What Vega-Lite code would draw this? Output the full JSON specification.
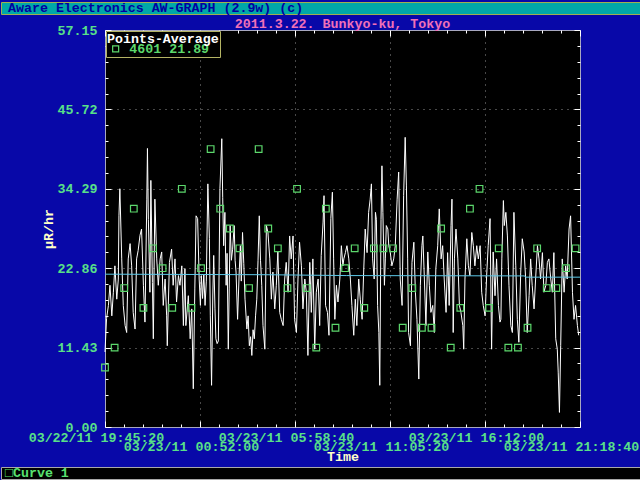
{
  "$schema": "https://vega.github.io/schema/vega-lite/v6.json",
  "background": "#0808A8",
  "padding": 0,
  "spacing": 1,
  "config": {
    "font": "Liberation Mono",
    "view": {"stroke": null}
  },
  "resolve": {"scale": {"color": "independent"}, "legend": {"color": "independent"}},
  "datasets": {
    "readings": [
      {"m":0,"v":10.8},{"m":5,"v":15.6},{"m":11,"v":17.5},{"m":16,"v":20.4},{"m":22,"v":16.0},{"m":27,"v":19.4},{"m":32,"v":23.2},{"m":38,"v":18.4},{"m":43,"v":21.3},{"m":45,"v":30.4},{"m":48,"v":34.3},{"m":54,"v":24.2},{"m":59,"v":17.5},{"m":65,"v":14.6},{"m":70,"v":13.6},{"m":75,"v":24.2},{"m":81,"v":26.4},{"m":86,"v":23.2},{"m":91,"v":16.5},{"m":97,"v":14.1},{"m":102,"v":24.2},{"m":107,"v":25.4},{"m":113,"v":27.6},{"m":118,"v":28.5},{"m":124,"v":20.4},{"m":129,"v":15.1},{"m":135,"v":32.8},{"m":137,"v":40.1},{"m":140,"v":29.9},{"m":145,"v":19.4},{"m":148,"v":35.5},{"m":153,"v":20.8},{"m":156,"v":12.7},{"m":161,"v":32.8},{"m":167,"v":24.2},{"m":172,"v":20.4},{"m":178,"v":24.2},{"m":183,"v":25.2},{"m":188,"v":17.5},{"m":194,"v":21.3},{"m":199,"v":16.0},{"m":201,"v":11.7},{"m":208,"v":23.7},{"m":215,"v":25.6},{"m":220,"v":20.4},{"m":226,"v":24.2},{"m":231,"v":18.0},{"m":237,"v":21.8},{"m":242,"v":20.4},{"m":248,"v":23.2},{"m":253,"v":14.6},{"m":258,"v":22.8},
      {"m":261,"v":14.6},{"m":269,"v":18.9},{"m":275,"v":12.7},{"m":280,"v":17.0},{"m":285,"v":5.5},{"m":290,"v":20.0},{"m":294,"v":30.4},{"m":299,"v":30.0},{"m":304,"v":21.3},{"m":308,"v":17.5},{"m":311,"v":21.8},{"m":315,"v":18.5},{"m":319,"v":22.0},{"m":323,"v":17.5},{"m":327,"v":21.0},{"m":332,"v":35.0},{"m":337,"v":27.1},{"m":340,"v":16.0},{"m":344,"v":6.0},{"m":348,"v":19.0},{"m":351,"v":24.7},{"m":355,"v":17.0},{"m":358,"v":12.7},{"m":362,"v":12.0},{"m":366,"v":12.4},{"m":371,"v":34.3},{"m":377,"v":41.5},{"m":380,"v":33.0},{"m":383,"v":26.1},{"m":387,"v":30.9},{"m":391,"v":20.4},{"m":394,"v":25.0},{"m":398,"v":11.2},{"m":401,"v":20.0},{"m":404,"v":29.0},{"m":408,"v":24.0},{"m":412,"v":25.6},{"m":417,"v":29.0},{"m":420,"v":24.0},{"m":423,"v":22.3},{"m":428,"v":15.5},{"m":433,"v":22.0},{"m":437,"v":26.1},{"m":440,"v":21.0},{"m":444,"v":28.0},{"m":448,"v":23.5},{"m":452,"v":18.4},{"m":458,"v":14.1},{"m":462,"v":16.0},{"m":466,"v":11.7},{"m":470,"v":13.0},{"m":474,"v":10.3},{"m":478,"v":14.0},{"m":482,"v":12.7},{"m":486,"v":16.0},{"m":490,"v":18.4},{"m":494,"v":24.0},{"m":498,"v":30.4},{"m":502,"v":24.0},{"m":506,"v":20.4},
      {"m":510,"v":14.6},{"m":516,"v":11.2},{"m":521,"v":29.0},{"m":526,"v":28.0},{"m":532,"v":24.2},{"m":537,"v":18.4},{"m":542,"v":22.3},{"m":548,"v":17.0},{"m":553,"v":20.4},{"m":558,"v":25.2},{"m":564,"v":16.5},{"m":569,"v":15.5},{"m":575,"v":14.6},{"m":580,"v":21.3},{"m":585,"v":23.7},{"m":591,"v":19.4},{"m":596,"v":27.5},{"m":601,"v":24.2},{"m":607,"v":27.5},{"m":612,"v":15.5},{"m":618,"v":13.6},{"m":623,"v":21.3},{"m":628,"v":26.6},{"m":634,"v":23.2},{"m":639,"v":17.0},{"m":645,"v":21.3},{"m":650,"v":19.4},{"m":655,"v":10.3},{"m":661,"v":23.7},{"m":666,"v":16.5},{"m":671,"v":24.2},{"m":677,"v":11.2},{"m":682,"v":19.4},{"m":688,"v":21.3},{"m":693,"v":14.6},{"m":698,"v":24.7},{"m":704,"v":29.5},{"m":707,"v":33.3},{"m":712,"v":17.5},{"m":718,"v":16.5},{"m":723,"v":13.2},{"m":729,"v":30.0},{"m":734,"v":33.8},{"m":738,"v":24.2},{"m":742,"v":15.5},{"m":747,"v":20.4},{"m":752,"v":18.0},{"m":758,"v":21.3},{"m":763,"v":26.1},{"m":768,"v":23.2},
      {"m":771,"v":24.2},{"m":776,"v":25.1},{"m":781,"v":26.1},{"m":787,"v":24.2},{"m":792,"v":21.3},{"m":797,"v":17.5},{"m":803,"v":13.2},{"m":808,"v":18.4},{"m":813,"v":14.6},{"m":819,"v":21.3},{"m":824,"v":18.4},{"m":830,"v":15.5},{"m":835,"v":22.3},{"m":840,"v":28.5},{"m":846,"v":25.1},{"m":851,"v":30.9},{"m":856,"v":32.8},{"m":860,"v":35.0},{"m":864,"v":24.2},{"m":869,"v":21.3},{"m":873,"v":30.9},{"m":876,"v":29.9},{"m":880,"v":17.5},{"m":884,"v":13.6},{"m":887,"v":6.0},{"m":891,"v":29.9},{"m":894,"v":37.6},{"m":897,"v":30.9},{"m":902,"v":20.4},{"m":905,"v":24.2},{"m":908,"v":29.0},{"m":913,"v":28.5},{"m":916,"v":26.1},{"m":921,"v":25.1},{"m":926,"v":23.2},{"m":932,"v":24.2},{"m":937,"v":26.1},{"m":943,"v":32.8},{"m":948,"v":36.7},{"m":953,"v":21.3},{"m":959,"v":17.5},{"m":964,"v":33.3},{"m":969,"v":41.7},{"m":973,"v":34.7},{"m":977,"v":24.2},{"m":980,"v":13.6},{"m":986,"v":11.7},{"m":991,"v":23.7},{"m":997,"v":26.6},{"m":1002,"v":19.4},{"m":1007,"v":15.5},{"m":1013,"v":6.9},{"m":1018,"v":20.4},{"m":1023,"v":26.1},
      {"m":1026,"v":27.5},{"m":1031,"v":21.3},{"m":1036,"v":14.6},{"m":1042,"v":25.2},{"m":1047,"v":20.4},{"m":1052,"v":16.5},{"m":1058,"v":17.5},{"m":1063,"v":13.6},{"m":1068,"v":22.8},{"m":1074,"v":26.1},{"m":1079,"v":31.4},{"m":1085,"v":24.2},{"m":1090,"v":26.1},{"m":1095,"v":21.3},{"m":1101,"v":16.5},{"m":1106,"v":25.1},{"m":1111,"v":17.5},{"m":1117,"v":29.0},{"m":1120,"v":32.8},{"m":1124,"v":13.6},{"m":1128,"v":24.2},{"m":1133,"v":28.5},{"m":1139,"v":24.2},{"m":1144,"v":17.5},{"m":1149,"v":16.5},{"m":1155,"v":14.6},{"m":1158,"v":11.2},{"m":1162,"v":21.3},{"m":1168,"v":27.1},{"m":1173,"v":23.2},{"m":1178,"v":21.8},{"m":1184,"v":28.0},{"m":1189,"v":26.1},{"m":1194,"v":23.2},{"m":1200,"v":26.1},{"m":1205,"v":24.2},{"m":1211,"v":26.1},{"m":1216,"v":19.4},{"m":1221,"v":17.5},{"m":1227,"v":16.0},{"m":1232,"v":21.8},{"m":1237,"v":26.1},{"m":1243,"v":30.0},{"m":1248,"v":11.2},{"m":1253,"v":25.2},{"m":1259,"v":18.9},{"m":1264,"v":24.2},{"m":1270,"v":17.5},{"m":1275,"v":15.1},
      {"m":1278,"v":15.5},{"m":1281,"v":24.2},{"m":1286,"v":32.6},{"m":1289,"v":29.0},{"m":1294,"v":30.9},{"m":1299,"v":27.5},{"m":1304,"v":20.4},{"m":1310,"v":14.6},{"m":1315,"v":13.6},{"m":1320,"v":30.9},{"m":1326,"v":23.2},{"m":1331,"v":15.5},{"m":1336,"v":12.2},{"m":1342,"v":22.3},{"m":1347,"v":27.1},{"m":1353,"v":25.2},{"m":1358,"v":21.3},{"m":1363,"v":13.6},{"m":1369,"v":18.9},{"m":1374,"v":24.2},{"m":1379,"v":20.4},{"m":1385,"v":17.0},{"m":1390,"v":21.3},{"m":1396,"v":26.1},{"m":1401,"v":24.2},{"m":1406,"v":21.3},{"m":1412,"v":25.1},{"m":1417,"v":19.4},{"m":1423,"v":20.4},{"m":1428,"v":23.7},{"m":1433,"v":24.2},{"m":1439,"v":21.3},{"m":1444,"v":19.4},{"m":1449,"v":25.1},{"m":1455,"v":12.7},{"m":1460,"v":11.2},{"m":1463,"v":7.9},{"m":1467,"v":2.1},{"m":1471,"v":11.7},{"m":1476,"v":24.2},{"m":1482,"v":19.4},{"m":1487,"v":23.2},{"m":1492,"v":21.3},{"m":1498,"v":28.5},{"m":1503,"v":30.4},{"m":1509,"v":19.4},{"m":1514,"v":15.5},{"m":1519,"v":17.5},{"m":1525,"v":14.6},{"m":1529,"v":13.2}
    ],
    "points": [
      {"m":0,"v":8.57},{"m":31,"v":11.43},{"m":62,"v":20.0},{"m":93,"v":31.43},{"m":124,"v":17.15},{"m":155,"v":25.72},{"m":186,"v":22.86},{"m":217,"v":17.15},{"m":248,"v":34.29},{"m":279,"v":17.15},
      {"m":310,"v":22.86},{"m":341,"v":40.01},{"m":372,"v":31.43},{"m":403,"v":28.58},{"m":434,"v":25.72},{"m":465,"v":20.0},{"m":496,"v":40.01},{"m":527,"v":28.58},{"m":558,"v":25.72},{"m":589,"v":20.0},
      {"m":620,"v":34.29},{"m":651,"v":20.0},{"m":682,"v":11.43},{"m":713,"v":31.43},{"m":744,"v":14.29},{"m":775,"v":22.86},{"m":806,"v":25.72},{"m":837,"v":17.15},{"m":868,"v":25.72},{"m":899,"v":25.72},
      {"m":930,"v":25.72},{"m":961,"v":14.29},{"m":992,"v":20.0},{"m":1023,"v":14.29},{"m":1054,"v":14.29},{"m":1085,"v":28.58},{"m":1116,"v":11.43},{"m":1147,"v":17.15},{"m":1178,"v":31.43},{"m":1209,"v":34.29},
      {"m":1240,"v":17.15},{"m":1271,"v":25.72},{"m":1302,"v":11.43},{"m":1333,"v":11.43},{"m":1364,"v":14.29},{"m":1395,"v":25.72},{"m":1426,"v":20.0},{"m":1457,"v":20.0},{"m":1488,"v":22.86},{"m":1519,"v":25.72}
    ],
    "average": [
      {"m":0,"v":22.0},{"m":520,"v":21.92},{"m":780,"v":21.8},{"m":1355,"v":21.75},{"m":1357,"v":21.57},{"m":1533.333,"v":21.57}
    ]
  },
  "vconcat": [
    {
      "width": 639,
      "height": 12,
      "view": {"fill": "#00A8A8", "stroke": "#A0B050", "strokeWidth": 1},
      "data": {"values": [{"label": "Aware Electronics AW-GRAPH (2.9w) (c)"}]},
      "mark": {"type": "text", "align": "left", "baseline": "middle", "dx": 7, "font": "Liberation Mono", "fontSize": 13.3, "fontWeight": "bold", "color": "#0000A0"},
      "encoding": {
        "text": {"field": "label"},
        "x": {"field": "label", "type": "nominal", "scale": {"type": "point", "padding": 0, "align": 0}, "axis": null}
      }
    },
    {
      "resolve": {"scale": {"color": "independent"}, "legend": {"color": "independent"}},
      "hconcat": [
        {
          "width": 104,
          "height": 397,
          "view": {"fill": null, "stroke": null},
          "data": {"values": [{}]},
          "mark": {"type": "text", "text": ""}
        },
        {
          "width": 475,
          "height": 397,
          "view": {"fill": "black", "stroke": "#A8A8C0", "strokeWidth": 1},
          "title": {"text": "2011.3.22. Bunkyo-ku, Tokyo", "color": "#F070B8", "font": "Liberation Mono", "fontSize": 13.3, "fontWeight": "bold", "frame": "group", "anchor": "middle", "baseline": "alphabetic", "offset": -18},
          "layer": [
            {
              "data": {"name": "readings"},
              "mark": {"type": "line", "color": "white", "strokeWidth": 1},
              "encoding": {
                "x": {
                  "field": "m", "type": "quantitative", "title": "Time",
                  "scale": {"domain": [0, 1533.333], "nice": false, "zero": false},
                  "axis": {
                    "orient": "bottom",
                    "values": [0, 61.333, 122.667, 184, 245.333, 306.667, 368, 429.333, 490.667, 552, 613.333, 674.667, 736, 797.333, 858.667, 920, 981.333, 1042.667, 1104, 1165.333, 1226.667, 1288, 1349.333, 1410.667, 1472, 1533.333],
                    "labelExpr": "round(datum.value*3/184) % 5 == 0 ? timeFormat(time(datetime(2011, 2, 22, 19, 45, 20)) + round(datum.value*60)*1000, '%m/%d/%y %H:%M:%S') : ''",
                    "labelFont": "Liberation Mono", "labelFontSize": 13.3, "labelFontWeight": "bold", "labelColor": "#58E088",
                    "labelAlign": "center", "labelBaseline": "top", "labelOffset": -9,
                    "labelPadding": {"condition": {"test": "round(datum.value*3/184) % 10 == 5", "value": 18}, "value": 9},
                    "labelOverlap": false, "labelFlush": false, "labelBound": false,
                    "ticks": true, "tickColor": "white", "tickWidth": 1,
                    "tickSize": {"condition": {"test": "round(datum.value*3/184) % 5 == 0", "value": -6}, "value": -3},
                    "domain": false,
                    "grid": true, "gridColor": "#909090", "gridDash": [1, 5], "gridWidth": 1,
                    "gridOpacity": {"condition": {"test": "round(datum.value*3/184) % 5 == 0 && datum.value > 1 && datum.value < 1530", "value": 1}, "value": 0},
                    "titleColor": "#FFFFC8", "titleFont": "Liberation Mono", "titleFontSize": 13.3, "titleFontWeight": "bold", "titlePadding": -3
                  }
                },
                "y": {
                  "field": "v", "type": "quantitative", "title": "μR/hr",
                  "scale": {"domain": [0, 57.15], "nice": false, "zero": true},
                  "axis": {
                    "orient": "left",
                    "values": [0, 2.286, 4.572, 6.858, 9.144, 11.43, 13.716, 16.002, 18.288, 20.574, 22.86, 25.146, 27.432, 29.718, 32.004, 34.29, 36.576, 38.862, 41.148, 43.434, 45.72, 48.006, 50.292, 52.578, 54.864, 57.15],
                    "labelExpr": "round(datum.value/2.286) % 5 == 0 ? format(datum.value, '.2f') : ''",
                    "labelFont": "Liberation Mono", "labelFontSize": 13.3, "labelFontWeight": "bold", "labelColor": "#58E088",
                    "labelPadding": 14, "labelOverlap": false, "labelFlush": false, "labelBound": false,
                    "ticks": true, "tickColor": "white", "tickWidth": 1,
                    "tickSize": {"condition": {"test": "round(datum.value/2.286) % 5 == 0", "value": -6}, "value": -3},
                    "domain": false,
                    "grid": true, "gridColor": "#909090", "gridDash": [1, 5], "gridWidth": 1,
                    "gridOpacity": {"condition": {"test": "round(datum.value/2.286) % 5 == 0 && datum.value > 0.1 && datum.value < 57", "value": 1}, "value": 0},
                    "titleColor": "#FFFFC8", "titleFont": "Liberation Mono", "titleFontSize": 13.3, "titleFontWeight": "bold", "titlePadding": 2
                  }
                }
              }
            },
            {
              "data": {"name": "average"},
              "mark": {"type": "line", "color": "#5CC8E8", "strokeWidth": 1},
              "encoding": {
                "x": {
                  "field": "m", "type": "quantitative",
                  "axis": {
                    "orient": "top", "title": null, "labels": false, "domain": false, "grid": false, "minExtent": 0, "maxExtent": 0,
                    "values": [0, 61.333, 122.667, 184, 245.333, 306.667, 368, 429.333, 490.667, 552, 613.333, 674.667, 736, 797.333, 858.667, 920, 981.333, 1042.667, 1104, 1165.333, 1226.667, 1288, 1349.333, 1410.667, 1472, 1533.333],
                    "ticks": true, "tickColor": "white", "tickWidth": 1,
                    "tickSize": {"condition": {"test": "round(datum.value*3/184) % 5 == 0", "value": -6}, "value": -3}
                  }
                },
                "y": {
                  "field": "v", "type": "quantitative",
                  "axis": {
                    "orient": "right", "title": null, "labels": false, "domain": false, "grid": false, "minExtent": 0, "maxExtent": 0,
                    "values": [0, 2.286, 4.572, 6.858, 9.144, 11.43, 13.716, 16.002, 18.288, 20.574, 22.86, 25.146, 27.432, 29.718, 32.004, 34.29, 36.576, 38.862, 41.148, 43.434, 45.72, 48.006, 50.292, 52.578, 54.864, 57.15],
                    "ticks": true, "tickColor": "white", "tickWidth": 1,
                    "tickSize": {"condition": {"test": "round(datum.value/2.286) % 5 == 0", "value": -6}, "value": -3}
                  }
                }
              }
            },
            {
              "data": {"name": "points"},
              "mark": {"type": "point", "shape": "square", "filled": false, "size": 44, "strokeWidth": 1.2, "opacity": 1},
              "encoding": {
                "x": {"field": "m", "type": "quantitative", "axis": null},
                "y": {"field": "v", "type": "quantitative", "axis": null},
                "color": {
                  "datum": "4601 21.89", "type": "nominal",
                  "scale": {"range": ["#5CD86C"]},
                  "legend": {
                    "title": "Points-Average", "orient": "top-left", "offset": 1, "padding": 1,
                    "fillColor": "black", "strokeColor": "#B4B464", "cornerRadius": 0,
                    "titleColor": "white", "titleFont": "Liberation Mono", "titleFontSize": 13.3, "titleFontWeight": "bold", "titlePadding": -3,
                    "labelColor": "#5CD86C", "labelFont": "Liberation Mono", "labelFontSize": 13.3, "labelFontWeight": "bold", "labelOffset": 7,
                    "symbolType": "square", "symbolSize": 36, "symbolStrokeWidth": 1.2, "symbolStrokeColor": "#5CD86C", "symbolFillColor": "transparent", "symbolOffset": 2,
                    "rowPadding": 0
                  }
                }
              }
            }
          ],
          "resolve": {"axis": {"x": "independent", "y": "independent"}}
        }
      ],
      "spacing": 0,
      "bounds": "flush"
    },
    {
      "width": 639,
      "height": 12,
      "view": {"fill": "black", "stroke": "#A8A8A8", "strokeWidth": 1},
      "data": {"values": [{"curve": "□Curve 1"}]},
      "mark": {"type": "text", "align": "left", "baseline": "middle", "dx": 4, "font": "Liberation Mono", "fontSize": 13.3, "fontWeight": "bold", "color": "#58E070"},
      "encoding": {
        "text": {"field": "curve"},
        "x": {"field": "curve", "type": "nominal", "scale": {"type": "point", "padding": 0, "align": 0}, "axis": null}
      }
    }
  ]
}
